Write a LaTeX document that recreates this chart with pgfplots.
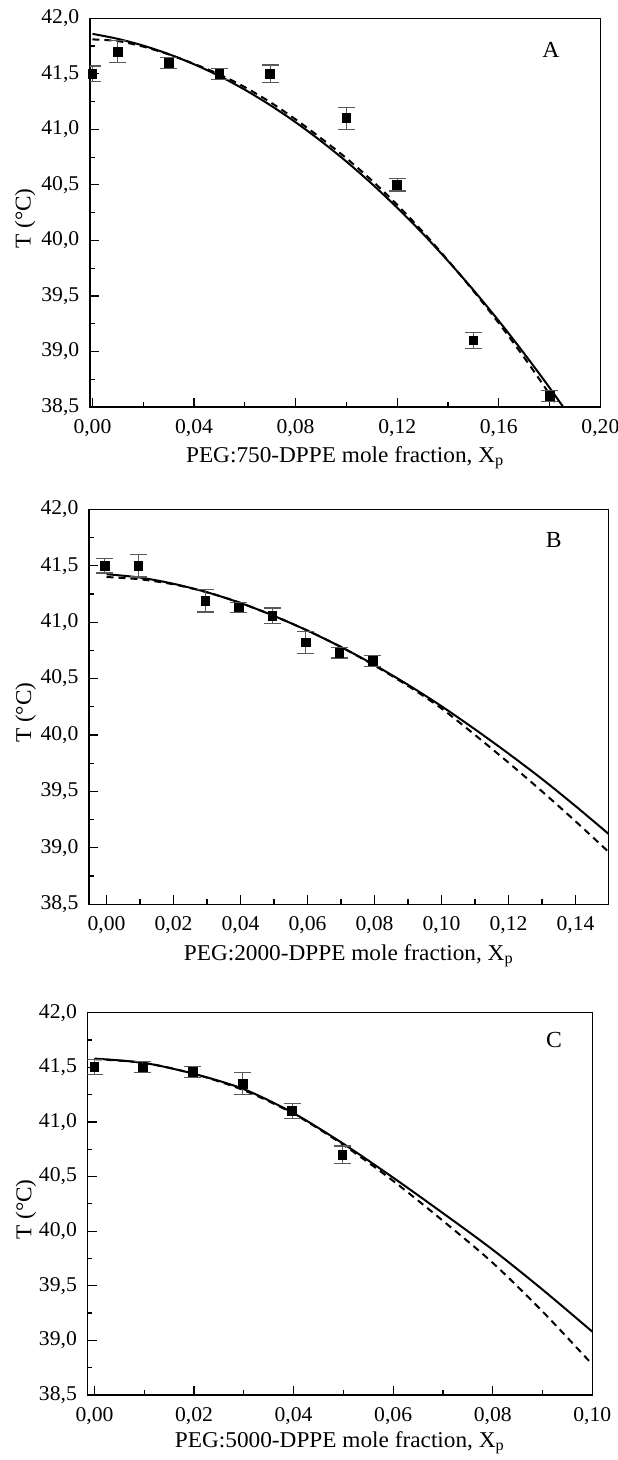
\documentclass[border=0pt]{standalone}
\usepackage{fontspec}
\setmainfont{Liberation Serif}[FakeStretch=1.03]
\usepackage{pgfplots}
\usepackage{pgfplotstable}
\pgfplotsset{compat=1.18}

% measured points: x, T, error
\pgfplotstableread{
x      y       e
0.000  41.50   0.07
0.010  41.70   0.10
0.030  41.60   0.05
0.050  41.50   0.05
0.070  41.50   0.08
0.100  41.10   0.10
0.120  40.50   0.055
0.150  39.10   0.07
0.180  38.60   0.05
}\ptsA
\pgfplotstableread{
x       y       e
-0.0005 41.50   0.065
0.0095  41.50   0.10
0.0295  41.19   0.10
0.0395  41.13   0.045
0.0495  41.055  0.07
0.0595  40.82   0.10
0.0695  40.73   0.047
0.0795  40.655  0.047
}\ptsB
\pgfplotstableread{
x       y       e
0.0000  41.505  0.07
0.0097  41.50   0.05
0.0197  41.46   0.05
0.0298  41.35   0.10
0.0397  41.10   0.07
0.0498  40.70   0.08
}\ptsC

\pgfplotsset{
  panel/.style={
    scale only axis, anchor=south west,
    axis line style={line width=0.7pt},
    tick align=inside, xtick pos=bottom, ytick pos=left,
    major tick length=4.5pt, minor tick length=2.5pt,
    every tick/.style={black, line width=0.6pt},
    ymin=38.5, ymax=42, ytick distance=0.5, minor y tick num=1,
    minor x tick num=1,
    /pgf/number format/assume math mode=true,
    yticklabel style={/pgf/number format/fixed, /pgf/number format/fixed zerofill,
      /pgf/number format/precision=1, /pgf/number format/use comma, xshift=-1.8pt},
    xticklabel style={/pgf/number format/fixed, /pgf/number format/fixed zerofill,
      /pgf/number format/precision=2, /pgf/number format/use comma, yshift=-2.5pt},
    tick label style={font=\fontsize{10.5}{12}\selectfont},
    label style={font=\fontsize{11.3}{13}\selectfont},
    ylabel={T (°C)},
  },
  fitl/.style={black, line width=1pt, no marks, smooth},
  fitd/.style={fitl, dash pattern=on 3.5pt off 2.5pt},
  pts/.style={only marks, mark=square*, mark size=2.2pt, black,
    error bars/y dir=both, error bars/y explicit,
    error bars/error bar style={black!65, line width=0.6pt},
    error bars/error mark options={black!65, rotate=90, mark size=4.2pt, line width=0.6pt}},
}
\tikzset{letter/.style={font=\fontsize{11.5}{13}\selectfont}}

\begin{document}
\begin{tikzpicture}

% panel A
\begin{axis}[panel, at={(44.95pt,-203.5pt)}, width=255.25pt, height=194.35pt,
  xmin=-0.001, xmax=0.2, xtick={0,0.04,0.08,0.12,0.16,0.2},
  xlabel={PEG:750-DPPE mole fraction, X\textsubscript{p}},
  ylabel style={at={(axis description cs:-0.127,0.485)}, anchor=center},
  xlabel style={at={(axis description cs:0.5,0)}, anchor=base, yshift=-27.5pt}]
\addplot[fitl] coordinates {(0.00,41.86) (0.01,41.815) (0.02,41.754) (0.03,41.678)
  (0.04,41.586) (0.05,41.480) (0.06,41.357) (0.07,41.218) (0.08,41.064) (0.09,40.894)
  (0.10,40.710) (0.11,40.510) (0.12,40.294) (0.13,40.063) (0.14,39.815) (0.15,39.553)
  (0.16,39.275) (0.17,38.981) (0.18,38.673) (0.19,38.348)};
\addplot[fitd] coordinates {(0.00,41.81) (0.01,41.795) (0.02,41.745) (0.03,41.675)
  (0.04,41.59) (0.05,41.495) (0.06,41.38) (0.07,41.245) (0.08,41.09) (0.09,40.92)
  (0.10,40.74) (0.11,40.54) (0.12,40.32) (0.13,40.08) (0.14,39.82) (0.15,39.545)
  (0.16,39.255) (0.17,38.945) (0.18,38.615) (0.19,38.265)};
\addplot[pts] table[x=x, y=y, y error=e] {\ptsA};
\node[letter] at (rel axis cs:0.903,0.918) {A};
\end{axis}

% panel B
\begin{axis}[panel, at={(44.55pt,-452.15pt)}, width=259.65pt, height=197.5pt,
  xmin=-0.0052, xmax=0.1498, xtick={0,0.02,0.04,0.06,0.08,0.1,0.12,0.14},
  xlabel={PEG:2000-DPPE mole fraction, X\textsubscript{p}},
  ylabel style={at={(axis description cs:-0.122,0.485)}, anchor=center},
  xlabel style={at={(axis description cs:0.5,0)}, anchor=base, yshift=-28pt}]
\addplot[fitl] coordinates {(0.00,41.425) (0.01,41.395) (0.02,41.34) (0.03,41.265)
  (0.04,41.17) (0.05,41.055) (0.06,40.925) (0.07,40.78) (0.08,40.62) (0.09,40.445)
  (0.10,40.255) (0.11,40.05) (0.12,39.835) (0.13,39.61) (0.14,39.37) (0.15,39.12)};
\addplot[fitd] coordinates {(0.00,41.40) (0.01,41.38) (0.02,41.335) (0.03,41.265)
  (0.04,41.17) (0.05,41.055) (0.06,40.925) (0.07,40.78) (0.08,40.615) (0.09,40.435)
  (0.10,40.235) (0.11,40.00) (0.12,39.755) (0.13,39.50) (0.14,39.235) (0.15,38.96)};
\addplot[pts] table[x=x, y=y, y error=e] {\ptsB};
\node[letter] at (rel axis cs:0.895,0.922) {B};
\end{axis}

% panel C
\begin{axis}[panel, at={(43.75pt,-697.5pt)}, width=252.4pt, height=191.15pt,
  xmin=-0.0014, xmax=0.1, xtick={0,0.02,0.04,0.06,0.08,0.1},
  xlabel={PEG:5000-DPPE mole fraction, X\textsubscript{p}},
  ylabel style={at={(axis description cs:-0.122,0.485)}, anchor=center},
  xlabel style={at={(axis description cs:0.5,0)}, anchor=base, yshift=-26pt}]
\addplot[fitl] coordinates {(0.00,41.58) (0.01,41.54) (0.02,41.44) (0.03,41.30)
  (0.04,41.08) (0.05,40.80) (0.06,40.49) (0.07,40.165) (0.08,39.83) (0.09,39.465)
  (0.10,39.08)};
\addplot[fitd] coordinates {(0.00,41.575) (0.01,41.54) (0.02,41.44) (0.03,41.29)
  (0.04,41.075) (0.05,40.79) (0.06,40.46) (0.07,40.095) (0.08,39.71) (0.09,39.265)
  (0.10,38.78)};
\addplot[pts] table[x=x, y=y, y error=e] {\ptsC};
\node[letter] at (rel axis cs:0.924,0.929) {C};
\end{axis}

\pgfresetboundingbox
\path[use as bounding box] (0,0) rectangle (308.5pt,-730pt);
\end{tikzpicture}
\end{document}
